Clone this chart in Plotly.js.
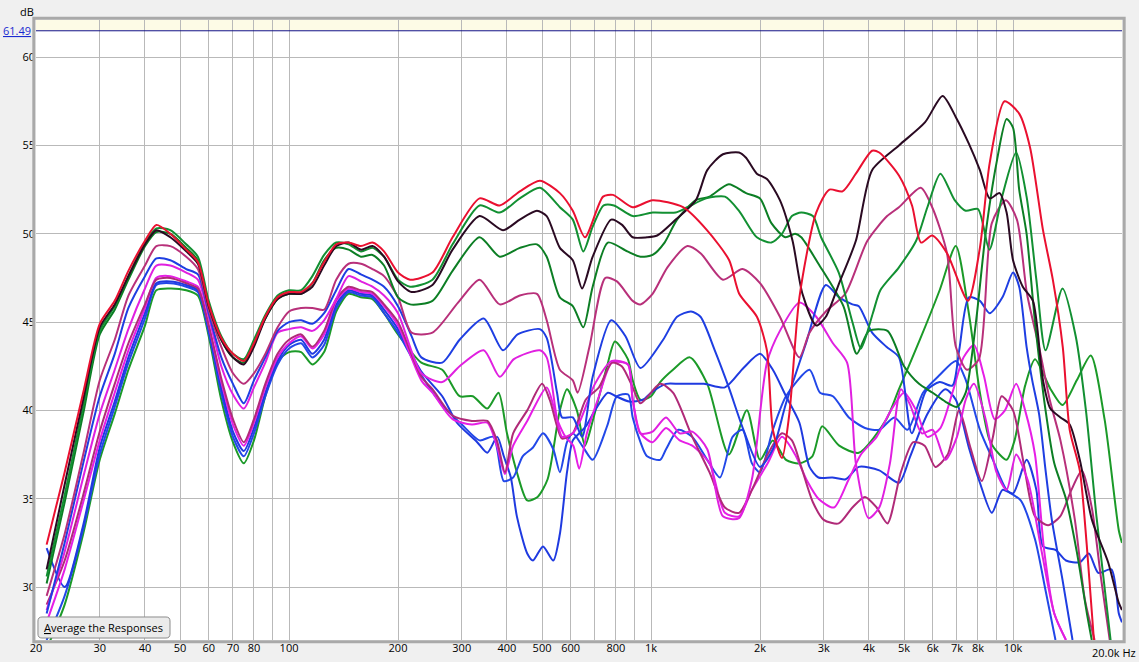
<!DOCTYPE html>
<html><head><meta charset="utf-8">
<script src="https://cdn.plot.ly/plotly-3.0.1.min.js"></script>
<style>html,body{margin:0;padding:0;background:#f0f0f0;}#chart{width:1139px;height:662px;}</style>
</head><body><div id="chart"></div>
<script>
// Shared low-frequency grid (Hz)
const lfFreq = [21.4,24,27,30,33,36,40,43,47,52,56,60,65,70,75,80,86,93,100,108,116,125,135,146,158,170,183,200];

// Red
const redLo = [32.4,36.5,41.0,44.9,46.2,47.9,49.6,50.5,50.0,49.1,48.4,46.0,44.1,43.2,42.8,43.8,45.3,46.4,46.7,46.7,47.2,48.4,49.4,49.5,49.3,49.5,49.0,47.8];
const redF = [216,249,283,336,382,434,493,560,608,657,737,785,890,1010,1226,1427,1644,1752,1961,2090,2170,2300,2410,2570,2860,3110,3380,3680,4080,4270,4840,5260,5570,5980,6570,7510,8100,8620,9470,10400,11140,12100,12880,13720,14340,15290,15980,16730];
const redHi = [47.4,47.8,49.8,52.0,51.6,52.4,53.0,52.3,51.3,49.8,52.1,52.2,51.5,51.9,51.5,50.2,48.5,46.6,45.3,43.4,38.9,37.3,39.8,46.4,51.2,52.5,52.4,53.4,54.7,54.6,53.3,51.6,49.5,49.9,48.9,46.2,49.2,54.0,57.5,56.8,54.9,50.2,47.4,43.6,38.9,36.6,32.4,27.0];

// Dark
const darkLo = [31.0,35.8,40.6,44.7,46.0,47.6,49.4,50.2,49.8,49.0,48.3,45.9,44.0,43.0,42.6,43.6,45.2,46.3,46.6,46.6,47.0,48.2,49.3,49.5,49.1,49.3,48.7,47.3];
const darkF = [218,249,283,336,390,434,484,515,560,608,645,690,776,832,890,975,1040,1170,1330,1430,1580,1750,1830,1960,2090,2270,2460,2620,2860,3040,3310,3680,4080,4840,5710,6390,6950,7550,8100,8620,9180,9600,10000,10640,11350,12100,12680,13520,14340,15290,16520,18310,19600,20000];
const darkHi = [46.7,47.1,49.1,51.0,50.2,50.8,51.3,51.0,49.2,48.5,46.9,48.7,50.8,50.5,49.8,49.8,49.9,50.8,51.9,53.6,54.5,54.6,54.3,53.4,53.1,51.9,49.6,46.6,44.8,45.3,47.2,49.6,53.6,55.0,56.3,57.8,56.6,55.1,53.6,52.0,52.3,51.2,48.5,47.0,46.2,41.7,40.1,39.6,39.2,37.2,33.8,31.4,29.1,28.7];

// Green 1
const g1Lo = [30.6,35.2,40.2,44.5,45.9,47.6,49.5,50.3,50.2,49.4,48.7,46.2,44.2,43.2,42.9,44.0,45.4,46.5,46.8,46.8,47.6,48.8,49.5,49.4,49.0,49.2,48.7,47.4];
const g1F = [216,249,283,336,382,434,493,560,608,650,690,740,790,890,1010,1170,1260,1420,1600,1750,1960,2150,2300,2450,2600,2800,2950,3300,3600,3800,4100,4300,4840,5400,5800,6300,6900,7400,8000,8600,9300,10200,10900,11600,12300,13700,14900,15900,17000,18600];
const g1Hi = [47.0,47.4,49.4,51.6,51.2,52.0,52.6,51.5,50.8,49.0,50.4,51.6,51.6,51.0,51.2,51.2,51.5,52.0,52.1,51.3,49.8,49.5,50.0,51.0,51.2,51.0,49.8,47.8,45.0,43.5,45.5,46.8,48.1,49.6,51.5,53.4,51.9,51.3,51.4,49.1,52.0,54.6,52.1,47.4,43.4,46.9,44.2,40.0,34.0,27.0];

// Green 2
const g2Lo = [30.2,34.8,39.8,44.3,45.7,47.4,49.3,50.1,50.0,49.2,48.5,46.0,44.0,43.0,42.7,43.8,45.2,46.3,46.6,46.6,47.2,48.5,49.2,49.1,48.7,48.8,48.2,46.4];
const g2F = [216,249,283,336,382,434,484,515,560,608,650,690,760,860,935,1010,1090,1180,1330,1450,1640,1830,2000,2150,2350,2500,2600,2900,3400,3700,4000,4500,5000,5500,6000,6500,7000,7400,7900,8400,9000,9600,10000,10400,10900,11500,12300,13000,14000,15000,16000,16500];
const g2Hi = [46.0,46.2,47.9,49.8,48.7,49.2,49.4,48.7,46.4,45.9,44.7,47.0,49.5,49.0,48.7,48.8,49.5,50.8,51.9,52.1,52.8,52.3,52.0,50.6,49.8,50.0,49.8,48.3,45.9,43.2,44.5,44.5,42.5,41.5,41.0,40.5,40.2,41.0,45.0,50.0,54.0,56.5,56.0,52.5,50.0,45.0,40.0,37.0,35.0,32.0,28.5,27.0];

// Green 3
const g3Lo = [26.5,29.0,33.0,37.2,39.8,42.3,44.8,46.8,46.9,46.8,46.5,44.2,40.6,38.2,37.0,38.3,40.8,42.8,43.3,43.3,42.6,43.3,45.6,46.6,46.4,46.3,45.5,44.3];
const g3F = [232,265,296,322,353,379,400,426,455,486,518,560,586,624,657,690,756,795,863,890,935,1000,1060,1150,1280,1430,1640,1840,2000,2170,2360,2570,2790,2970,3310,3750,4470,4840,5530,6270,6950,7550,8100,8620,9180,9600,10100,10800,11500,12700,13700,15000,16400,17900,19600,20000];
const g3Hi = [42.7,42.3,40.8,40.8,40.1,41.0,38.7,36.5,34.9,35.1,36.1,40.0,41.2,40.0,38.0,39.4,42.5,43.9,42.9,41.7,40.6,40.8,41.6,42.3,43.0,41.5,37.5,40.0,37.2,38.3,37.2,37.0,37.4,39.1,38.0,37.6,39.5,41.2,44.0,46.8,49.3,45.5,41.0,38.3,37.5,37.2,38.3,41.4,42.9,41.2,40.3,41.7,43.1,39.5,33.2,32.5];

// Plum 1
const p1Lo = [29.5,33.0,37.5,41.7,44.0,46.5,48.2,49.3,49.3,48.7,48.0,45.7,43.6,42.1,41.5,42.1,43.2,44.7,45.6,45.8,45.8,45.7,47.4,48.3,48.3,48.0,47.6,46.4];
const p1F = [218,249,293,336,382,434,484,515,560,608,627,676,748,805,890,935,1010,1110,1260,1370,1580,1790,2000,2270,2570,2740,3040,3440,3960,4490,4840,5560,5980,6570,6950,7460,8050,8740,9550,10250,10930,11850,12630,13520,14820,15790,16800];
const p1Hi = [44.4,44.4,46.1,47.4,46.0,46.5,46.6,45.1,42.3,41.7,41.0,43.6,47.5,47.3,46.2,46.0,46.6,48.1,49.3,48.9,47.4,48.0,47.2,45.3,43.0,44.4,45.6,46.6,49.6,51.0,51.5,52.6,51.5,48.9,43.6,42.3,42.9,50.6,51.9,50.8,46.6,43.4,40.6,38.3,33.8,29.3,27.0];

// Blue 1
const b1Lo = [28.5,32.5,37.0,40.8,43.2,45.8,47.6,48.6,48.5,48.0,47.7,45.5,43.0,41.5,40.4,41.7,43.0,44.5,45.0,45.1,44.9,45.5,46.8,48.0,47.7,47.4,47.0,45.9];
const b1F = [218,232,265,296,345,390,428,493,515,550,568,608,645,690,776,850,935,1080,1180,1290,1370,1500,1640,1800,2000,2170,2360,2680,3040,3310,3600,3750,4080,4470,4840,5250,5750,6270,6800,7100,7550,8100,8620,9350,10000,10400,10900,11300,11800,12300,12800,13700,14600];
const b1Hi = [44.2,43.0,42.7,44.0,45.2,43.4,44.3,44.6,44.1,41.0,39.6,39.6,38.5,41.9,45.1,44.2,42.4,44.0,45.3,45.6,45.3,43.4,41.3,38.9,36.8,37.8,40.4,43.8,47.1,46.4,46.0,45.9,44.4,43.6,43.0,38.7,41.1,41.6,41.4,43.4,46.4,46.2,45.5,46.4,47.8,47.0,43.6,41.7,39.8,36.6,33.8,30.4,27.0];

// Blue 2
const b2Lo = [32.2,30.0,33.5,37.9,40.5,43.0,45.5,47.2,47.3,47.1,46.8,44.6,41.3,38.8,37.7,39.0,41.0,42.8,43.7,44.0,43.2,44.0,46.0,46.8,46.6,46.5,45.7,44.6];
const b2F = [232,265,291,331,353,376,392,410,426,455,472,503,537,560,586,608,633,661,700,760,800,870,950,1000,1100,1200,1400,1600,1800,2000,2170,2360,2570,2740,2900,3170,3450,3750,4270,4840,5200,5800,6500,6950,7550,8100,8740,9350,10000,10900,11600,12100,13100,14000,15300,16200,17200,18700,19600,20000];
const b2Hi = [42.2,40.8,39.3,38.2,37.6,38.5,37.4,36.2,34.0,31.9,31.5,32.3,31.5,33.0,36.5,38.3,38.7,39.1,40.0,41.0,40.8,40.5,40.6,41.0,41.5,41.5,41.5,41.3,42.4,43.2,42.3,40.8,39.3,36.8,36.2,36.2,36.1,36.8,36.6,35.9,37.4,39.8,41.2,40.6,37.9,35.9,34.2,35.5,35.3,37.2,35.5,32.3,32.1,31.5,31.4,31.9,30.8,31.0,28.5,28.0];

// Blue 3
const b3Lo = [27.0,29.5,33.3,37.5,40.2,42.7,45.2,47.1,47.2,47.0,46.7,44.4,41.0,38.5,37.4,38.7,40.8,42.6,43.5,43.8,43.0,43.7,45.8,46.7,46.5,46.4,45.5,44.4];
const b3F = [232,265,300,336,367,392,416,442,472,503,537,560,586,608,650,690,756,805,865,890,935,975,1060,1100,1190,1300,1430,1550,1680,1790,1900,2000,2170,2360,2740,2930,3180,3520,3900,4270,4700,5110,5640,6270,6950,7410,8100,8800,9600,10500,11500,12300,13100];
const b3Hi = [42.0,40.3,39.2,38.3,38.5,36.0,36.2,37.4,37.9,38.7,37.8,36.5,38.2,38.7,37.9,37.2,39.1,40.8,40.9,39.6,38.2,37.4,37.2,37.8,38.9,38.5,37.2,36.2,38.5,38.9,37.0,36.5,38.9,40.8,42.3,41.0,40.8,39.6,39.0,38.9,39.6,38.9,41.0,42.0,42.8,41.7,38.9,37.2,35.5,34.9,32.7,29.8,27.0];

// Magenta 1
const m1Lo = [28.7,32.0,36.2,39.8,42.3,44.6,46.9,48.2,48.2,47.8,47.4,45.3,42.5,40.9,40.1,41.3,42.7,44.4,44.6,44.7,44.5,45.1,46.3,47.6,47.3,47.0,46.5,45.5];
const m1F = [232,265,296,345,382,418,493,515,550,568,608,640,700,780,863,890,935,1010,1100,1200,1300,1430,1580,1750,1900,2090,2270,2570,2860,3180,3480,3680,3990,4270,4570,4900,5200,5600,6000,6500,7000,7400,7800,8400,9000,9600,10200,11000,12000,13000,14000];
const m1Hi = [42.1,41.6,42.5,43.4,41.9,42.9,43.4,43.0,39.5,38.5,38.7,39.5,41.5,42.8,42.6,40.6,38.7,38.8,39.6,38.7,38.8,37.8,34.0,33.9,36.1,42.7,44.5,46.1,45.3,43.8,42.7,37.0,33.9,34.5,37.0,41.2,40.3,38.7,38.9,37.2,38.5,40.6,41.5,39.5,36.5,35.5,37.5,36.0,32.0,28.5,27.0];

// Magenta 2
const m2Lo = [28.0,31.0,34.8,38.3,41.0,43.4,45.8,47.5,47.6,47.3,47.0,44.8,41.6,39.2,38.0,39.3,41.3,43.0,43.8,44.2,43.5,44.3,46.2,46.9,46.7,46.6,45.9,44.8];
const m2F = [232,249,283,320,353,375,395,416,455,515,550,580,610,633,665,718,780,863,890,935,1010,1100,1200,1300,1450,1600,1750,1900,2100,2300,2500,2700,2900,3200,3500,3800,4200,4600,5000,5400,5800,6300,6800,7300,7800,8300,8900,9500,10200,10800,11500,12200,13000,14000];
const m2Hi = [41.7,41.0,39.5,39.2,39.3,38.0,36.4,38.0,39.4,41.3,39.5,38.5,38.0,36.7,38.7,40.8,42.7,42.6,40.6,38.7,38.2,39.0,38.3,38.0,37.0,34.2,34.0,35.5,37.0,38.5,37.5,36.0,35.0,34.5,36.0,37.5,38.5,40.0,41.0,40.0,38.5,39.0,41.0,43.0,43.7,42.0,39.5,40.0,41.5,40.0,37.5,32.0,28.5,27.0];

// Plum 2
const p2Lo = [29.0,31.5,35.2,38.8,41.5,43.8,46.0,47.4,47.5,47.2,46.9,44.8,41.8,39.5,38.2,39.5,41.5,43.2,44.0,44.3,43.6,44.5,46.3,47.0,46.8,46.7,46.0,45.0];
const p2F = [232,249,283,320,353,375,395,416,455,500,525,550,568,608,660,718,780,830,890,935,1060,1150,1300,1450,1600,1750,1900,2100,2300,2450,2600,2800,3000,3300,3600,3900,4200,4500,4900,5300,5700,6100,6600,7100,7600,8200,8800,9300,10000,10700,11500,12500,13500,14500,15500,16500,17500,18500];
const p2Hi = [41.9,41.2,39.7,39.4,39.4,38.3,36.5,38.7,40.0,41.5,40.6,39.1,38.4,38.7,40.6,41.3,42.7,42.5,41.3,40.4,41.5,41.0,38.5,36.5,34.5,34.2,35.5,37.5,38.7,38.3,36.8,34.8,33.8,33.6,34.5,35.1,34.5,33.6,36.5,38.2,38.0,36.8,37.5,40.0,38.0,36.0,38.5,40.8,40.0,37.0,34.0,33.5,34.0,35.5,36.6,34.5,30.5,27.0];

// X axis ticks
const xTickVals = [20,30,40,50,60,70,80,90,100,200,300,400,500,600,700,800,900,1000,2000,3000,4000,5000,6000,7000,8000,9000,10000,20000];
const xTickText = ['20','30','40','50','60','70','80','','100','200','300','400','500','600','','800','','1k','2k','3k','4k','5k','6k','7k','8k','','10k',''];
const yTickVals = [30,35,40,45,50,55,60];
const markerLevel = 61.49;

const series = [
  {name:'Green 3', color:'#1b9a28', lo:g3Lo, f:g3F, hi:g3Hi},
  {name:'Blue 3', color:'#2248e8', lo:b3Lo, f:b3F, hi:b3Hi},
  {name:'Blue 2', color:'#1f3ae0', lo:b2Lo, f:b2F, hi:b2Hi},
  {name:'Magenta 2', color:'#e61ee6', lo:m2Lo, f:m2F, hi:m2Hi},
  {name:'Plum 2', color:'#b02a78', lo:p2Lo, f:p2F, hi:p2Hi},
  {name:'Magenta 1', color:'#e020e0', lo:m1Lo, f:m1F, hi:m1Hi},
  {name:'Blue 1', color:'#1e3ee2', lo:b1Lo, f:b1F, hi:b1Hi},
  {name:'Plum 1', color:'#b8307a', lo:p1Lo, f:p1F, hi:p1Hi},
  {name:'Green 2', color:'#0c7e24', lo:g2Lo, f:g2F, hi:g2Hi},
  {name:'Green 1', color:'#129032', lo:g1Lo, f:g1F, hi:g1Hi},
  {name:'Dark', color:'#2a0a22', lo:darkLo, f:darkF, hi:darkHi},
  {name:'Red', color:'#ea1030', lo:redLo, f:redF, hi:redHi}
];

const traces = series.map(s => ({
  type:'scatter', mode:'lines', name:s.name,
  x: lfFreq.concat(s.f), y: s.lo.concat(s.hi),
  line:{color:s.color, width:2, shape:'spline', smoothing:0.7},
  hoverinfo:'skip'
}));

// rounded button outline in paper coordinates
const bx0 = 0.0018, bx1 = 0.1234, by0 = 0.0032, by1 = 0.0371, rx = 0.0037, ry = 0.0065;
const btnPath = `M ${bx0+rx},${by0} L ${bx1-rx},${by0} Q ${bx1},${by0} ${bx1},${by0+ry} L ${bx1},${by1-ry} Q ${bx1},${by1} ${bx1-rx},${by1} L ${bx0+rx},${by1} Q ${bx0},${by1} ${bx0},${by1-ry} L ${bx0},${by0+ry} Q ${bx0},${by0} ${bx0+rx},${by0} Z`;

const fontFam = 'Open Sans, Noto Sans, sans-serif';
const layout = {
  width:1139, height:662,
  margin:{l:36, r:17, t:20, b:22},
  paper_bgcolor:'#f0f0f0', plot_bgcolor:'#ffffff',
  showlegend:false,
  font:{family:fontFam, size:11, color:'#000'},
  xaxis:{type:'log', range:[Math.log10(20), Math.log10(20000)], tickvals:xTickVals, ticktext:xTickText,
    showgrid:true, gridcolor:'#b9b9b9', gridwidth:1, zeroline:false, showline:false, ticks:'',
    tickfont:{family:fontFam, size:11, color:'#000'}, fixedrange:true},
  yaxis:{range:[27.0, 62.1], tickvals:yTickVals, showgrid:true, gridcolor:'#b9b9b9', gridwidth:1,
    zeroline:false, showline:false, ticks:'', tickfont:{family:fontFam, size:11, color:'#000'}, fixedrange:true},
  shapes:[
    {type:'rect', xref:'paper', yref:'y', x0:0, x1:1, y0:markerLevel, y1:62.1, fillcolor:'#fdfbe6', line:{width:0}, layer:'below'},
    {type:'line', xref:'paper', yref:'y', x0:0, x1:1, y0:markerLevel, y1:markerLevel, line:{color:'#12128a', width:1}},
    {type:'rect', xref:'paper', yref:'paper', x0:-0.002, x1:1.002, y0:-0.003, y1:1.003, line:{color:'#a9a9a9', width:3}, fillcolor:'rgba(0,0,0,0)'},
    {type:'path', xref:'paper', yref:'paper', path:btnPath, fillcolor:'#ebebeb', line:{color:'#8c8c8c', width:1}, layer:'above'}
  ],
  annotations:[
    {xref:'paper', yref:'paper', x:0.0626, y:0.0202, xanchor:'center', yanchor:'middle', text:'<u>A</u>verage the Responses', showarrow:false, font:{family:fontFam, size:11, color:'#000'}},
    {xref:'paper', yref:'y', x:-0.003, y:markerLevel, xanchor:'right', yanchor:'middle', text:'<u>61.49</u>', showarrow:false, font:{family:fontFam, size:11, color:'#1a2ad0'}},
    {xref:'paper', yref:'paper', x:-0.0083, y:1.013, xanchor:'center', yanchor:'middle', text:'dB', showarrow:false, font:{family:fontFam, size:11, color:'#000'}},
    {xref:'paper', yref:'paper', x:1.0147, y:-0.0195, xanchor:'right', yanchor:'middle', text:'20.0k Hz', showarrow:false, font:{family:fontFam, size:11, color:'#000'}}
  ]
};

Plotly.newPlot('chart', traces, layout, {staticPlot:true, displayModeBar:false});
</script>
</body></html>
